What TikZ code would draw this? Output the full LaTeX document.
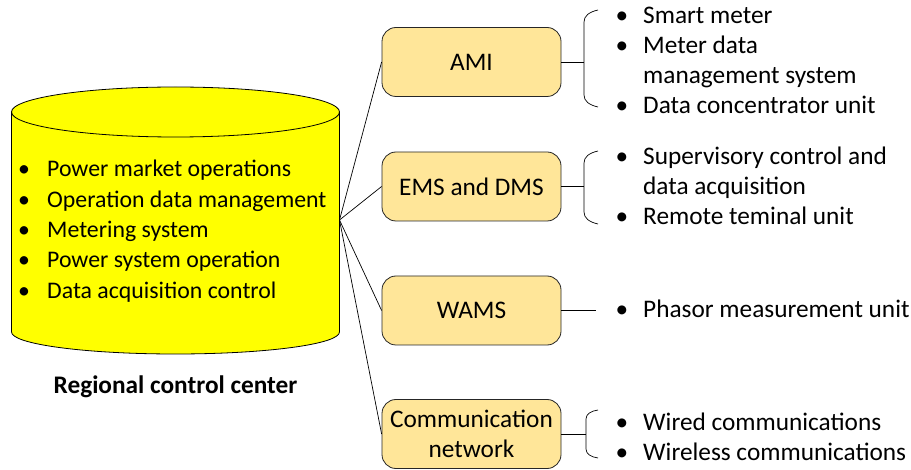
\documentclass[tikz,border=0pt]{standalone}
\usepackage{fontspec}
\setmainfont{Carlito}
\definecolor{cylfill}{HTML}{FFFF00}
\definecolor{boxfill}{HTML}{FFE699}
\begin{document}
\begin{tikzpicture}[x=1pt,y=1pt,
  txt/.style={font=\fontsize{25.3}{30}\selectfont, inner sep=0pt},
  drumtxt/.style={font=\fontsize{23.8}{30}\selectfont, inner sep=0pt},
  item/.style={txt, anchor=base west},
  dot/.style={txt, anchor=base},
  drumitem/.style={drumtxt, anchor=base west},
  drumdot/.style={drumtxt, anchor=base},
  unitbox/.style={draw=black!85, line width=0.8pt, fill=boxfill, rounded corners=14pt,
    minimum width=179pt, minimum height=69pt, align=center,
    font=\fontsize{25.3}{30}\selectfont},
  link/.style={line width=0.7pt},
  brace/.style={line width=0.7pt}]

\useasboundingbox (0,0) rectangle (911,-470);

% regional control center drum
\fill[cylfill] (11.5,-112) -- (11.5,-332)
  arc[start angle=180,end angle=360,x radius=164,y radius=22]
  -- (339.5,-112)
  arc[start angle=0,end angle=180,x radius=164,y radius=25] -- cycle;
\draw[line width=0.8pt] (11.5,-112) -- (11.5,-332)
  arc[start angle=180,end angle=360,x radius=164,y radius=22]
  -- (339.5,-112);
\draw[line width=0.8pt] (175.5,-112) ellipse[x radius=164,y radius=25];
\coordinate (hub) at (339.5,-220);

\foreach \t [count=\i] in {Power market operations,Operation data management,Metering system,Power system operation,Data acquisition control}{
  \node[drumdot] (cb\i) at (24,{-176.7-30.4*(\i-1)}) {•};
  \node[drumitem] (ct\i) at (47,{-176.7-30.4*(\i-1)}) {\t};
}
\node[txt, font=\bfseries\fontsize{25.3}{30}\selectfont] (rcc) at (175.5,-387) {Regional control center};

% subsystems
\node[unitbox] (ami) at (471.5,-62) {AMI};
\node[unitbox] (ems) at (471.5,-186.5) {EMS and DMS};
\node[unitbox] (wams) at (471.5,-310.5) {WAMS};
\node[unitbox] (comm) at (471.5,-434) {Communication\\network};

\draw[link] (hub) -- (ami.west);
\draw[link] (hub) -- (ems.west);
\draw[link] (hub) -- (wams.west);
\draw[link] (hub) -- (comm.west);

% brackets
\coordinate (amiB) at (584,-62);
\coordinate (emsB) at (584,-186.5);
\coordinate (wamsB) at (596,-310.5);
\coordinate (commB) at (586,-434);
\draw[link] (ami.east) -- (amiB);
\draw[link] (ems.east) -- (emsB);
\draw[link] (wams.east) -- (wamsB);
\draw[link] (comm.east) -- (commB);

\draw[brace] (598,-10) .. controls (589,-12) and (584,-16) .. (584,-22) -- (584,-95)
  .. controls (584,-101) and (589,-105) .. (598,-107);
\draw[brace] (598,-151) .. controls (589,-153) and (584,-157) .. (584,-163) -- (584,-212)
  .. controls (584,-218) and (589,-222) .. (598,-224);
\draw[brace] (598,-410) .. controls (591,-411) and (586,-414) .. (586,-419) -- (586,-449)
  .. controls (586,-454) and (591,-457) .. (598,-458);

% item lists
\foreach \y/\t/\b [count=\i] in {24/Smart meter/1, 54/Meter data/1, 84/management system/0,
  114/Data concentrator unit/1, 165/Supervisory control and/1, 195/data acquisition/0,
  225/Remote teminal unit/1, 318/Phasor measurement unit/1, 430.5/Wired communications/1,
  460.5/Wireless communications/1}{
  \ifnum\b=1 \node[dot] (rb\i) at (622,-\y) {•};\fi
  \node[item] (rt\i) at (643,-\y) {\t};
}
\end{tikzpicture}
\end{document}
